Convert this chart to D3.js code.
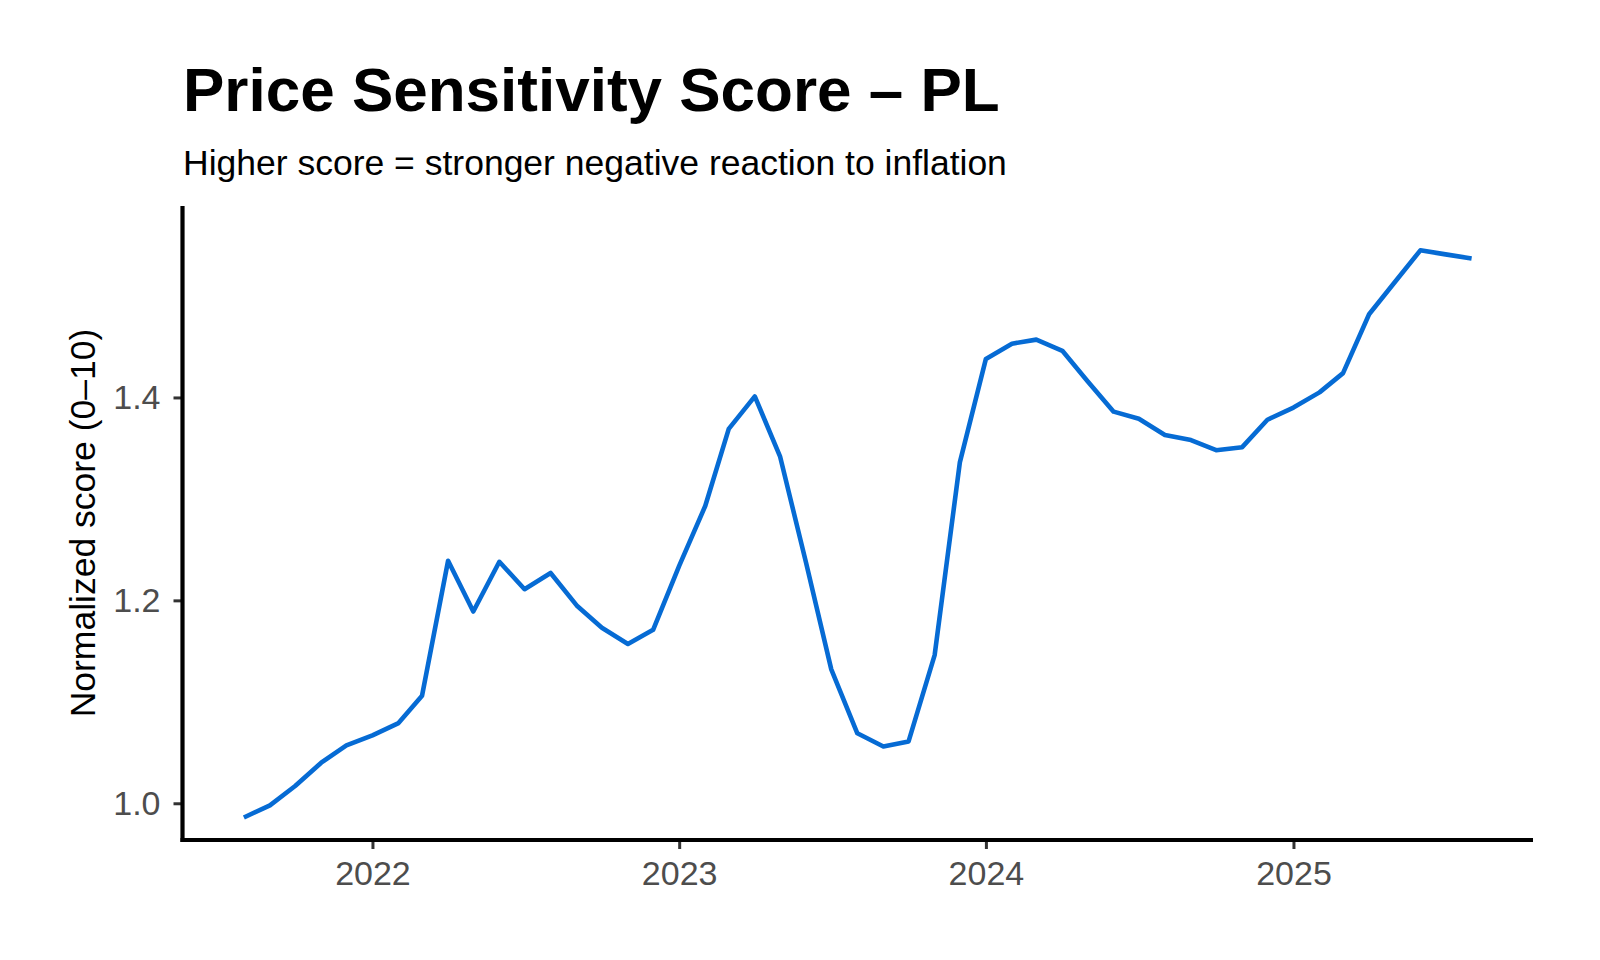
<!DOCTYPE html>
<html>
<head>
<meta charset="utf-8">
<script src="https://cdn.jsdelivr.net/npm/d3@7"></script>
<style>
  html, body { margin: 0; padding: 0; background: #ffffff; }
  svg { display: block; }
  text { font-family: "Liberation Sans", Arial, Helvetica, sans-serif; }
</style>
</head>
<body>
<svg id="chart" width="1600" height="960"></svg>
<script>
// ---- data ----
const months = [
  "2021-08","2021-09","2021-10","2021-11","2021-12",
  "2022-01","2022-02","2022-03","2022-04","2022-05","2022-06","2022-07","2022-08","2022-09","2022-10","2022-11","2022-12",
  "2023-01","2023-02","2023-03","2023-04","2023-05","2023-06","2023-07","2023-08","2023-09","2023-10","2023-11","2023-12",
  "2024-01","2024-02","2024-03","2024-04","2024-05","2024-06","2024-07","2024-08","2024-09","2024-10","2024-11","2024-12",
  "2025-01","2025-02","2025-03","2025-04","2025-05","2025-06","2025-07","2025-08"
];
const scores = [
  0.986, 0.998, 1.017, 1.040, 1.057,
  1.067, 1.079, 1.106, 1.239, 1.189, 1.238, 1.211, 1.227, 1.195, 1.173, 1.157, 1.171,
  1.234, 1.293, 1.369, 1.401, 1.342, 1.237, 1.132, 1.069, 1.056, 1.061, 1.146, 1.336,
  1.438, 1.453, 1.457, 1.446, 1.416, 1.386, 1.379, 1.363, 1.358, 1.348, 1.351, 1.378,
  1.390, 1.405, 1.424, 1.482, 1.513, 1.545, 1.541, 1.537
];
const yTicks = [1.0, 1.2, 1.4];
const xTickYears = ["2022", "2023", "2024", "2025"];
const yAxisLimits = [0.9638, 1.5887];

const titleText = "Price Sensitivity Score \u2013 PL";
const subtitleText = "Higher score = stronger negative reaction to inflation";
const yTitleText = "Normalized score (0\u201310)";

// ---- layout ----
const panel = { left: 182.5, right: 1533, top: 206, bottom: 840 };
const svg = d3.select("#chart");
svg.append("rect").attr("width", 1600).attr("height", 960).attr("fill", "#ffffff");

const parse = d3.timeParse("%Y-%m");
const data = months.map((m, i) => ({ date: parse(m), value: scores[i] }));

const t0 = data[0].date.getTime(), t1 = data[data.length - 1].date.getTime();
const pad = (t1 - t0) * 0.05;
const x = d3.scaleTime()
  .domain([new Date(t0 - pad), new Date(t1 + pad)])
  .range([panel.left, panel.right]);
const y = d3.scaleLinear()
  .domain(yAxisLimits)
  .range([panel.bottom, panel.top]);

// titles
svg.append("text")
  .attr("x", 183).attr("y", 111)
  .attr("font-size", 62).attr("font-weight", "bold").attr("fill", "#000")
  .text(titleText);
svg.append("text")
  .attr("x", 183).attr("y", 175)
  .attr("font-size", 35.5).attr("fill", "#000")
  .text(subtitleText);

// x axis
const xAxis = d3.axisBottom(x)
  .tickValues(xTickYears.map(yr => d3.timeParse("%Y")(yr)))
  .tickFormat(d3.timeFormat("%Y"))
  .tickSizeInner(9).tickSizeOuter(0).tickPadding(12);
const gx = svg.append("g").attr("transform", `translate(0,${panel.bottom})`).call(xAxis);
gx.select(".domain").remove();
gx.selectAll(".tick line").attr("stroke", "#333333").attr("stroke-width", 3);
gx.selectAll(".tick text").attr("font-size", 34).attr("fill", "#4D4D4D")
  .attr("font-family", "Liberation Sans, Arial, sans-serif");

// y axis
const yAxis = d3.axisLeft(y)
  .tickValues(yTicks)
  .tickFormat(d3.format(".1f"))
  .tickSizeInner(9).tickSizeOuter(0).tickPadding(13);
const gy = svg.append("g").attr("transform", `translate(${panel.left},0)`).call(yAxis);
gy.select(".domain").remove();
gy.selectAll(".tick line").attr("stroke", "#333333").attr("stroke-width", 3);
gy.selectAll(".tick text").attr("font-size", 34).attr("fill", "#4D4D4D")
  .attr("font-family", "Liberation Sans, Arial, sans-serif");

// axis lines
svg.append("line")
  .attr("x1", panel.left).attr("x2", panel.left)
  .attr("y1", panel.top).attr("y2", panel.bottom + 2)
  .attr("stroke", "#000").attr("stroke-width", 4.2);
svg.append("line")
  .attr("x1", panel.left - 2).attr("x2", panel.right)
  .attr("y1", panel.bottom).attr("y2", panel.bottom)
  .attr("stroke", "#000").attr("stroke-width", 4.2);

// y title
svg.append("text")
  .attr("transform", `translate(95,${(panel.top + panel.bottom) / 2}) rotate(-90)`)
  .attr("text-anchor", "middle")
  .attr("font-size", 35.5).attr("fill", "#000")
  .text(yTitleText);

// line
const line = d3.line().x(d => x(d.date)).y(d => y(d.value));
svg.append("path")
  .datum(data)
  .attr("d", line)
  .attr("fill", "none")
  .attr("stroke", "#066bd4")
  .attr("stroke-width", 4.6)
  .attr("stroke-linejoin", "round")
  .attr("stroke-linecap", "butt");
</script>
</body>
</html>
